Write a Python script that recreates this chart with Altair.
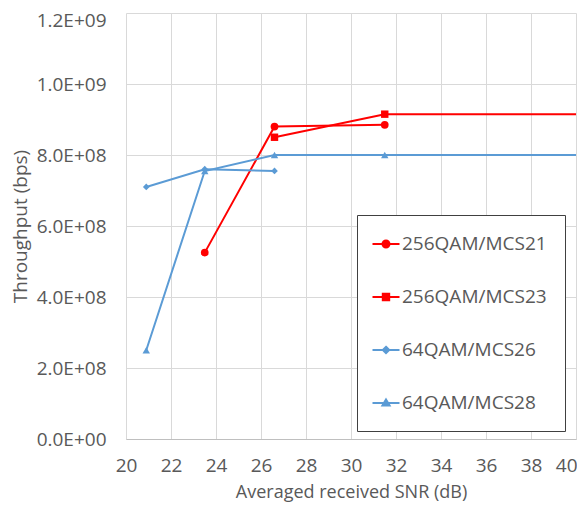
import altair as alt
import pandas as pd

series_names = ["256QAM/MCS21", "256QAM/MCS23", "64QAM/MCS26", "64QAM/MCS28"]
series_colors = ["#FF0000", "#FF0000", "#5B9BD5", "#5B9BD5"]
series_shapes = ["circle", "square", "diamond", "triangle-up"]
series_sizes = [60, 55, 45, 55]

mcs21_snr = [23.5, 26.6, 31.5]
mcs21_tput = [5.25e8, 8.8e8, 8.85e8]
mcs21_marker = [True, True, True]

mcs23_snr = [26.6, 31.5, 40.0]
mcs23_tput = [8.5e8, 9.15e8, 9.15e8]
mcs23_marker = [True, True, False]

mcs26_snr = [20.9, 23.5, 26.6]
mcs26_tput = [7.1e8, 7.6e8, 7.55e8]
mcs26_marker = [True, True, True]

mcs28_snr = [20.9, 23.5, 26.6, 31.5, 40.0]
mcs28_tput = [2.5e8, 7.55e8, 8.0e8, 8.0e8, 8.0e8]
mcs28_marker = [True, True, True, True, False]

x_ticks = [20, 22, 24, 26, 28, 30, 32, 34, 36, 38, 40]
y_ticks = [0, 2e8, 4e8, 6e8, 8e8, 1.0e9, 1.2e9]

rows = []
for name, xs, ys, ms in [
    (series_names[0], mcs21_snr, mcs21_tput, mcs21_marker),
    (series_names[1], mcs23_snr, mcs23_tput, mcs23_marker),
    (series_names[2], mcs26_snr, mcs26_tput, mcs26_marker),
    (series_names[3], mcs28_snr, mcs28_tput, mcs28_marker),
]:
    for i, (xv, yv, mv) in enumerate(zip(xs, ys, ms)):
        rows.append({"series": name, "snr": xv, "tput": yv, "marker": mv, "idx": i})
df = pd.DataFrame(rows)

FONT = "Open Sans"
TXT = "#595959"

# legend symbols (unit = 10 px): a short line with the marker in the middle
legend_paths = [
    "M-1.35,0L1.35,0M-0.35,0A0.35,0.35,0,1,1,0.35,0A0.35,0.35,0,1,1,-0.35,0Z",
    "M-1.35,0L1.35,0M-0.32,-0.32L0.32,-0.32L0.32,0.32L-0.32,0.32Z",
    "M-1.35,0L1.35,0M0,-0.32L0.32,0L0,0.32L-0.32,0Z",
    "M-1.35,0L1.35,0M0,-0.36L0.36,0.26L-0.36,0.26Z",
]

color_scale = alt.Scale(domain=series_names, range=series_colors)

x_enc = alt.X(
    "snr:Q",
    scale=alt.Scale(domain=[20, 40], nice=False, zero=False),
    axis=alt.Axis(
        values=x_ticks, title="Averaged received SNR (dB)", grid=True,
        gridColor="#D9D9D9", domainColor="#BFBFBF", ticks=False,
        labelFlush=False,
        labelAlign={"condition": {"test": "datum.value >= 40", "value": "right"}, "value": "center"},
        labelOffset={"condition": {"test": "datum.value >= 40", "value": 1}, "value": 0},
        labelPadding=17, titlePadding=8, labelFontSize=19, titleFontSize=18,
    ),
)
y_enc = alt.Y(
    "tput:Q",
    scale=alt.Scale(domain=[0, 1.2e9], nice=False),
    axis=alt.Axis(
        values=y_ticks, title="Throughput (bps)", grid=True,
        gridColor="#D9D9D9", domain=False, ticks=False, labelPadding=20,
        labelFlush=False,
        labelOffset={"condition": {"test": "datum.value >= 1.2e9", "value": 7}, "value": 0},
        titlePadding=6, labelFontSize=19, titleFontSize=19,
        labelExpr="replace(upper(format(datum.value, '.1e')), regexp('E\\\\+(\\\\d)$'), 'E+0$1')",
    ),
)

base = alt.Chart(df)

lines = base.mark_line(strokeWidth=2).encode(
    x=x_enc, y=y_enc,
    color=alt.Color("series:N", scale=color_scale, legend=None),
    order=alt.Order("idx:Q"),
)

point_layers = []
for name, shp, sz in zip(series_names, series_shapes, series_sizes):
    point_layers.append(
        base.transform_filter(
            alt.FieldEqualPredicate(field="series", equal=name)
        ).transform_filter("datum.marker").mark_point(
            filled=True, size=sz, opacity=1, shape=shp
        ).encode(
            x=x_enc, y=y_enc,
            color=alt.Color("series:N", scale=color_scale, legend=None),
        )
    )

leg = alt.Legend(
    title=None, orient="none", legendX=231, legendY=202,
    strokeColor="#404040", fillColor="white", padding=18,
    labelFontSize=19, labelFont=FONT, labelColor=TXT, labelOffset=5,
    symbolSize=400, symbolStrokeWidth=2, symbolOpacity=1,
    rowPadding=32, labelLimit=300,
)

legend_layer = base.mark_point(
    filled=True, strokeWidth=2, opacity=0
).encode(
    x=x_enc, y=y_enc,
    fill=alt.Fill("series:N", scale=color_scale, legend=leg),
    stroke=alt.Stroke("series:N", scale=color_scale, legend=leg),
    shape=alt.Shape("series:N", scale=alt.Scale(domain=series_names, range=legend_paths), legend=leg),
)

chart = alt.layer(legend_layer, lines, *point_layers).properties(
    width=450, height=426,
    autosize=alt.AutoSizeParams(type="none"),
    padding={"left": 118, "top": 5, "right": 1, "bottom": 64},
).configure_view(
    stroke=None
).configure_axis(
    labelFont=FONT, titleFont=FONT,
    labelColor=TXT, titleColor=TXT, titleFontWeight="normal",
)

chart.save("out.html", embed_options={"renderer": "svg", "actions": False})
